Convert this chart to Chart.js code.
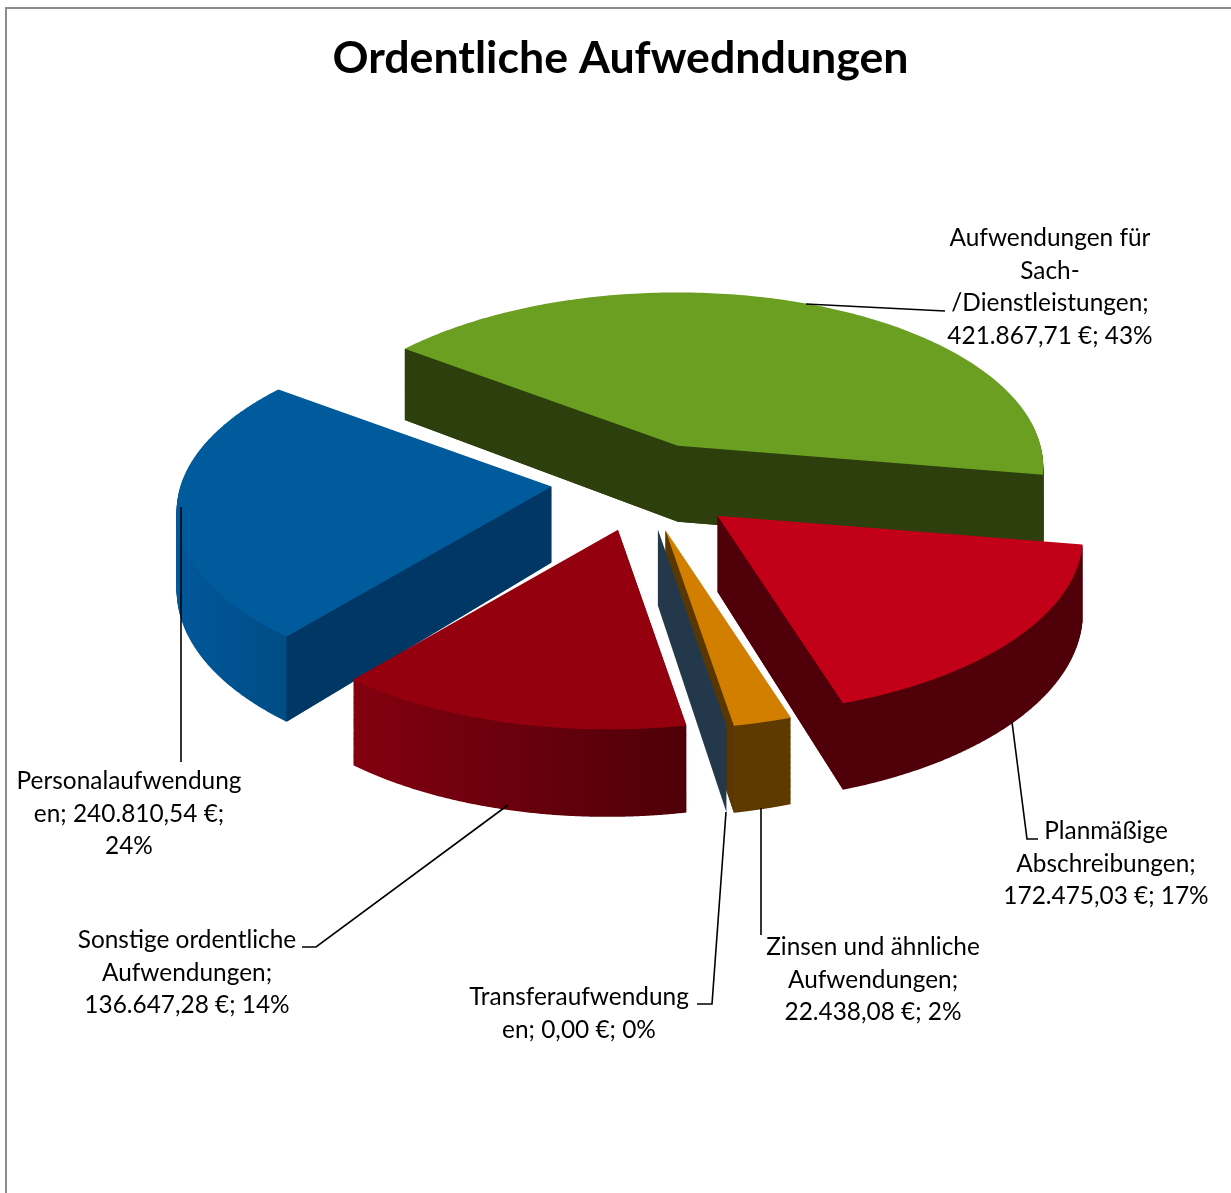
<!DOCTYPE html>
<html lang="de">
<head>
<meta charset="utf-8">
<title>Ordentliche Aufwendungen</title>
<style>
  body { margin: 0; background: #fff; }
  canvas { display: block; }
</style>
<script src="https://cdn.jsdelivr.net/npm/chart.js@4"></script>
</head>
<body>
<canvas id="chart" width="1231" height="1193"></canvas>
<script>
const categories = ['Personalaufwendungen', 'Aufwendungen für Sach-/Dienstleistungen', 'Planmäßige Abschreibungen', 'Zinsen und ähnliche Aufwendungen', 'Transferaufwendungen', 'Sonstige ordentliche Aufwendungen'];
const values = [240810.54, 421867.71, 172475.03, 22438.08, 0, 136647.28];
const labelLines = [
  ['Personalaufwendung', 'en; 240.810,54 €;', '24%'],
  ['Aufwendungen für', 'Sach-', '/Dienstleistungen;', '421.867,71 €; 43%'],
  ['Planmäßige', 'Abschreibungen;', '172.475,03 €; 17%'],
  ['Zinsen und ähnliche', 'Aufwendungen;', '22.438,08 €; 2%'],
  ['Transferaufwendung', 'en; 0,00 €; 0%'],
  ['Sonstige ordentliche', 'Aufwendungen;', '136.647,28 €; 14%']
];

const topColors = ['#005b9c', '#6b9f22', '#c20017', '#d27f00', '#23394b', '#95000f'];
const rimLeft = ['#00589a', '#2d3f0c', '#500008', '#5f3a00', '#23394b', '#830010'];
const rimRight = ['#004c86', '#2d3f0c', '#500008', '#5f3a00', '#23394b', '#4e0008'];
const edgeColors = ['#013764', '#2d3f0c', '#500008', '#5a3700', '#23394b', '#4e0008'];
const explode = [104, 112, 96, 88, 90, 92];
const nudge = [[2, -9], [-7, -1], [5, -2], [1, 2], [-1, 0], [-4, 0]];
const drawOrder = [1, 0, 5, 3, 4, 2];

// labels: middle of the text and middle of the first line
const labelPos = [[129, 781], [1050, 238], [1106, 831], [873, 947], [579, 997], [187, 940]];
const lineGap = 32.8;
const leaders = [
  [[181, 507], [181, 762]],
  [[806, 304], [945, 311]],
  [[1012, 722], [1027, 839], [1038, 839]],
  [[761, 808], [761, 935]],
  [[726, 812], [712, 1004], [697, 1004]],
  [[508, 805], [316, 947], [302, 947]]
];

// camera: unit circle to screen, with a bit of perspective (g, h)
const cam = { cx: 645, cy: 490, ux: -236.3, uy: 133.8, vx: -280.7, vy: -110.4, g: -0.1083, h: 0.0745, depth: 76 };

function toScreen(c, s, z) {
  const w = 1 + cam.g * c + cam.h * s;
  return {
    x: (cam.ux * c + cam.vx * s) / w,
    y: (cam.uy * c + cam.vy * s) / w + z * cam.depth / w
  };
}

function sliceShift(arc, i) {
  const mid = arc.startAngle + (arc.endAngle - arc.startAngle) / 2;
  const t = explode[i] / arc.outerRadius;
  const p = toScreen(Math.cos(mid) * t, Math.sin(mid) * t, 0);
  return { x: cam.cx + p.x + nudge[i][0], y: cam.cy + p.y + nudge[i][1] };
}

// context handed to the arc element: same calls, but every point goes through the camera
function cameraContext(ctx, arc, shift, z) {
  const put = (px, py) => {
    const p = toScreen((px - arc.x) / arc.outerRadius, (py - arc.y) / arc.outerRadius, z);
    ctx.lineTo(shift.x + p.x, shift.y + p.y);
  };
  const own = {
    beginPath: () => ctx.beginPath(),
    closePath: () => ctx.closePath(),
    fill: () => ctx.fill(),
    moveTo: put,
    lineTo: put,
    arc(x, y, r, a0, a1) {
      for (let k = 0; k <= 90; k++) {
        const a = a0 + (a1 - a0) * k / 90;
        put(x + Math.cos(a) * r, y + Math.sin(a) * r);
      }
    }
  };
  return new Proxy(own, {
    get: (t, k) => (k in t ? t[k] : () => {}),
    set: (t, k, v) => { ctx[k] = v; return true; }
  });
}

function drawArc3d(ctx, arc, fill, shift, z) {
  const flat = Object.create(arc, {
    options: { value: { backgroundColor: fill, borderWidth: 0, borderRadius: 0, offset: 0, spacing: 0, circular: true, borderAlign: 'center' } }
  });
  flat.draw(cameraContext(ctx, arc, shift, z));
}

function rimGradient(ctx, arc, i, shift) {
  let minX = Infinity;
  let maxX = -Infinity;
  for (let k = 0; k <= 24; k++) {
    const a = arc.startAngle + (arc.endAngle - arc.startAngle) * k / 24;
    const x = toScreen(Math.cos(a), Math.sin(a), 0).x;
    minX = Math.min(minX, x);
    maxX = Math.max(maxX, x);
  }
  const g = ctx.createLinearGradient(shift.x + minX, 0, shift.x + maxX, 0);
  g.addColorStop(0, rimLeft[i]);
  g.addColorStop(1, rimRight[i]);
  return g;
}

function drawEdgeWall(ctx, i, shift, angle) {
  const c = Math.cos(angle);
  const s = Math.sin(angle);
  const corners = [toScreen(0, 0, 0), toScreen(c, s, 0), toScreen(c, s, 1), toScreen(0, 0, 1)];
  ctx.fillStyle = edgeColors[i];
  ctx.beginPath();
  corners.forEach(p => ctx.lineTo(shift.x + p.x, shift.y + p.y));
  ctx.closePath();
  ctx.fill();
}

const pie3d = {
  id: 'pie3d',
  beforeDatasetsDraw(chart) {
    const ctx = chart.ctx;
    const arcs = chart.getDatasetMeta(0).data;
    drawOrder.forEach(i => {
      const arc = arcs[i];
      const shift = sliceShift(arc, i);
      const empty = arc.endAngle - arc.startAngle === 0;
      if (!empty) {
        const fill = rimGradient(ctx, arc, i, shift);
        for (let d = 90; d > 0; d--) {
          drawArc3d(ctx, arc, fill, shift, d / 90);
        }
      }
      // only the straight walls that face the viewer
      if (toScreen(Math.cos(arc.startAngle), Math.sin(arc.startAngle), 0).x < 0) drawEdgeWall(ctx, i, shift, arc.startAngle);
      if (toScreen(Math.cos(arc.endAngle), Math.sin(arc.endAngle), 0).x > 0) drawEdgeWall(ctx, i, shift, arc.endAngle);
      if (!empty) drawArc3d(ctx, arc, topColors[i], shift, 0);
    });
    return false;
  },
  afterDraw(chart) {
    const ctx = chart.ctx;
    ctx.save();
    // frame
    ctx.strokeStyle = '#8c8c8c';
    ctx.lineWidth = 2;
    ctx.beginPath();
    ctx.moveTo(6, 1193);
    ctx.lineTo(6, 8);
    ctx.lineTo(1231, 8);
    ctx.stroke();
    // leader lines
    ctx.strokeStyle = '#000';
    ctx.lineWidth = 1.6;
    leaders.forEach(line => {
      ctx.beginPath();
      line.forEach((p, k) => k ? ctx.lineTo(p[0], p[1]) : ctx.moveTo(p[0], p[1]));
      ctx.stroke();
    });
    // data labels
    ctx.fillStyle = '#000';
    ctx.font = '24.4px Lato';
    ctx.textAlign = 'center';
    ctx.textBaseline = 'middle';
    labelLines.forEach((lines, i) => {
      lines.forEach((t, k) => ctx.fillText(t, labelPos[i][0], labelPos[i][1] + k * lineGap));
    });
    ctx.restore();
  }
};

new Chart(document.getElementById('chart').getContext('2d'), {
  type: 'pie',
  data: {
    labels: categories,
    datasets: [{
      data: values,
      backgroundColor: topColors,
      offset: explode,
      borderWidth: 0
    }]
  },
  options: {
    responsive: false,
    animation: false,
    events: [],
    rotation: 90,
    radius: 400,
    layout: { padding: { left: 10 } },
    plugins: {
      legend: { display: false },
      tooltip: { enabled: false },
      title: {
        display: true,
        text: 'Ordentliche Aufwedndungen',
        color: '#000',
        font: { family: 'Lato', size: 44.7, weight: 'bold' },
        padding: { top: 32, bottom: 10 }
      }
    }
  },
  plugins: [pie3d]
});
</script>
</body>
</html>
